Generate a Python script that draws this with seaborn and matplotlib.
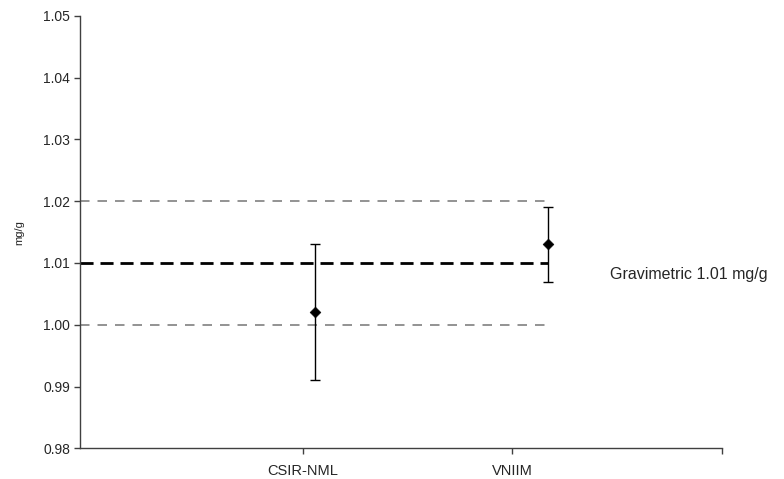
import matplotlib
matplotlib.use("Agg")
import matplotlib.pyplot as plt
import seaborn as sns
import pandas as pd

# values
labs = ["CSIR-NML", "VNIIM"]
lab_x = [1.06, 2.17]
values = [1.002, 1.013]
uncert = [0.011, 0.006]
tick_pos = [1, 2, 3]
tick_labels = ["CSIR-NML", "VNIIM", ""]
gravimetric = 1.01
band = [1.00, 1.02]

df = pd.DataFrame({"lab": labs, "x": lab_x, "value": values, "u": uncert})

sns.set_style("white")
plt.rcParams["font.family"] = ["Liberation Sans", "DejaVu Sans"]

fig = plt.figure(figsize=(7.84, 4.79), dpi=100)
ax = fig.add_axes([0.102, 0.064, 0.8185, 0.903])

# reference lines up to the last lab
x_end = max(lab_x)
for b in band:
    ax.plot([-0.064, x_end], [b, b], color="#808080", lw=1.2,
            dashes=(5.7, 4.8), zorder=1)
ax.plot([-0.064, x_end], [gravimetric, gravimetric], color="black", lw=2,
        dashes=(4.7, 2.5), zorder=2)

ax.errorbar(df["x"], df["value"], yerr=df["u"], fmt="none", ecolor="black",
            elinewidth=1, capsize=3.5, capthick=1, zorder=3)
sns.scatterplot(data=df, x="x", y="value", marker="D", color="black", s=30,
                edgecolor="black", ax=ax, zorder=4, legend=False)

ax.text(2.465, gravimetric - 0.0019, "Gravimetric 1.01 mg/g", fontsize=11.5,
        va="center", ha="left")

ax.set_xlim(-0.064, 3)
ax.set_ylim(0.98, 1.05)
ax.set_yticks([0.98, 0.99, 1.00, 1.01, 1.02, 1.03, 1.04, 1.05])
ax.set_yticklabels([f"{v:.2f}" for v in ax.get_yticks()], fontsize=10)
ax.set_xticks(tick_pos)
ax.set_xticklabels(tick_labels, fontsize=10.5)
ax.set_xlabel("")
ax.set_ylabel("mg/g", fontsize=8, labelpad=14)

for side in ["top", "right"]:
    ax.spines[side].set_visible(False)
for side in ["left", "bottom"]:
    ax.spines[side].set_color("#404040")
    ax.spines[side].set_linewidth(1)
ax.tick_params(axis="both", direction="out", length=4, width=1,
               color="#404040", left=True, bottom=True)
ax.tick_params(axis="y", pad=3)
ax.tick_params(axis="x", pad=7)

plt.savefig("out.png", dpi=100)
